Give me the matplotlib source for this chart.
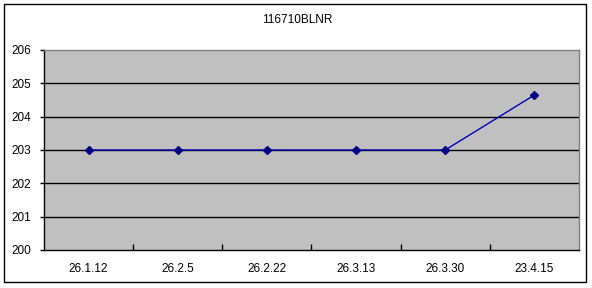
import matplotlib
matplotlib.use("Agg")
import matplotlib.pyplot as plt
from matplotlib.patches import Rectangle

plt.rcParams['font.family'] = ['Liberation Sans', 'DejaVu Sans']

title = "116710BLNR"
dates = ["26.1.12", "26.2.5", "26.2.22", "26.3.13", "26.3.30", "23.4.15"]
values = [203.0, 203.0, 203.0, 203.0, 203.0, 204.65]
y_ticks = [200, 201, 202, 203, 204, 205, 206]

W, H = 592, 288
fig = plt.figure(figsize=(W / 100, H / 100), dpi=100)
fig.patch.set_facecolor("white")

# outer chart frame
fig.add_artist(Rectangle((4 / W, 1 - 282 / H), 582 / W, 278 / H,
                         transform=fig.transFigure, fill=False,
                         edgecolor="black", linewidth=1.0))

ax = fig.add_axes([44 / W, 1 - 250 / H, 535 / W, 200 / H])
ax.set_facecolor("#C0C0C0")

x = list(range(len(dates)))
ax.plot(x, values, color="#0000B8", linewidth=1.0, marker="D",
        markersize=3.8, markerfacecolor="#000080",
        markeredgecolor="#000080", zorder=3)

ax.set_xlim(-0.5, len(dates) - 0.5)
ax.set_ylim(200, 206)
ax.set_yticks(y_ticks)
ax.set_yticklabels([str(v) for v in y_ticks], fontsize=8.5)
for v in y_ticks[1:-1]:
    ax.axhline(v, color="black", linewidth=1.0, zorder=1)

ax.set_xticks(x)
ax.set_xticklabels(dates, fontsize=8.5)
ax.set_xticks([i + 0.5 for i in x[:-1]], minor=True)
ax.tick_params(axis="x", which="major", length=0, pad=9)
ax.tick_params(axis="x", which="minor", length=4, direction="in", width=1)
ax.tick_params(axis="y", length=3, direction="out", pad=6, width=1)

ax.spines["left"].set_color("black")
ax.spines["bottom"].set_color("black")
ax.spines["top"].set_color("#808080")
ax.spines["right"].set_color("#808080")
for s in ax.spines.values():
    s.set_linewidth(1.0)

fig.text(297.5 / W, 1 - 20 / H, title, ha="center", va="center", fontsize=8.5)

fig.savefig("out.png", dpi=100)
